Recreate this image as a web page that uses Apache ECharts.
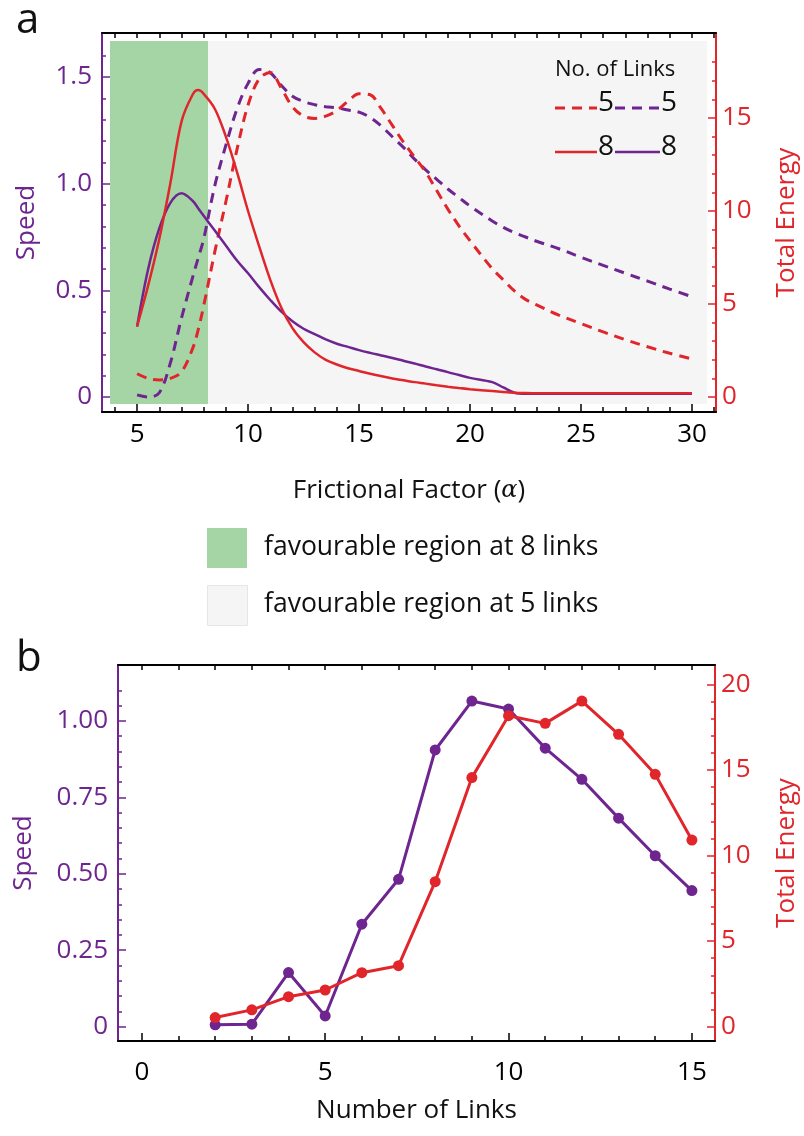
<!DOCTYPE html>
<html>
<head>
<meta charset="utf-8">
<title>Speed and total energy vs frictional factor / number of links</title>
<script src="https://cdn.jsdelivr.net/npm/echarts@6.0.0/dist/echarts.min.js"></script>
<style>
  html, body { margin: 0; padding: 0; background: #fff; }
  #main { width: 804px; height: 1136px; }
</style>
</head>
<body>
<div id="main"></div>
<script>
// ---- panel a : sweep over the frictional factor ----
var alpha = [5, 5.5, 6, 6.5, 7, 7.5, 7.75, 8, 8.5, 9, 9.5, 10, 10.5, 11, 11.5, 12, 12.5, 13, 13.5, 14, 14.5,
  15, 15.5, 16, 16.5, 17, 17.5, 18, 18.5, 19, 19.5, 20, 21, 21.5, 22, 22.5, 23, 24, 25, 26, 27, 28, 29, 30];
var speed8 = [0.33, 0.60, 0.79, 0.91, 0.955, 0.92, 0.885, 0.85, 0.78, 0.71, 0.64, 0.58, 0.515, 0.455, 0.40, 0.355, 0.32,
  0.295, 0.27, 0.25, 0.235, 0.22, 0.207, 0.195, 0.183, 0.17, 0.157, 0.143, 0.13, 0.117, 0.103, 0.09, 0.07, 0.045,
  0.02, 0.015, 0.015, 0.015, 0.015, 0.015, 0.015, 0.015, 0.015, 0.015];
var energy8 = [3.8, 6.0, 8.5, 11.5, 14.8, 16.25, 16.5, 16.3, 15.5, 14.0, 12.1, 10.0, 8.1, 6.3, 4.8, 3.7, 2.95,
  2.4, 2.0, 1.75, 1.55, 1.4, 1.25, 1.12, 1.0, 0.9, 0.8, 0.72, 0.63, 0.55, 0.48, 0.42, 0.32, 0.27,
  0.23, 0.21, 0.2, 0.2, 0.2, 0.2, 0.2, 0.2, 0.2, 0.2];
var speed5 = [0.01, 0.0, 0.02, 0.16, 0.37, 0.56, 0.65, 0.74, 0.99, 1.18, 1.35, 1.47, 1.535, 1.52, 1.46, 1.41, 1.385,
  1.37, 1.36, 1.355, 1.345, 1.335, 1.31, 1.27, 1.22, 1.17, 1.115, 1.065, 1.02, 0.975, 0.935, 0.895, 0.825, 0.795,
  0.77, 0.75, 0.73, 0.695, 0.655, 0.617, 0.58, 0.543, 0.506, 0.47];
var energy5 = [1.25, 1.0, 0.92, 1.0, 1.35, 2.6, 3.6, 4.9, 7.8, 10.5, 13.3, 15.7, 17.1, 17.45, 16.6, 15.6, 15.1,
  14.98, 15.1, 15.4, 15.9, 16.3, 16.25, 15.5, 14.6, 13.7, 12.9, 12.1, 11.1, 10.1, 9.2, 8.4, 6.9, 6.3,
  5.7, 5.25, 4.95, 4.4, 3.95, 3.5, 3.08, 2.7, 2.35, 2.05];

// favourable regions (alpha from..to, speed from..to)
var region8 = [3.78, 8.2];
var region5 = [8.2, 30.68];
var regionSpeed = [-0.033, 1.669];

// ---- panel b : number of links ----
var links = [2, 3, 4, 5, 6, 7, 8, 9, 10, 11, 12, 13, 14, 15];
var speedLinks = [0.006, 0.008, 0.177, 0.035, 0.335, 0.482, 0.905, 1.065, 1.039, 0.911, 0.809, 0.682, 0.559, 0.445];
var energyLinks = [0.53, 0.98, 1.75, 2.14, 3.15, 3.56, 8.47, 14.55, 18.17, 17.72, 19.02, 17.08, 14.74, 10.9];

// tick values
var alphaLabels = [5, 10, 15, 20, 25, 30];
var alphaMinor = [4, 5, 6, 7, 8, 9, 10, 11, 12, 13, 14, 15, 16, 17, 18, 19, 20, 21, 22, 23, 24, 25, 26, 27, 28, 29, 30, 31];
var speedLabelsA = [0, 0.5, 1, 1.5];
var speedMinorA = [0, 0.1, 0.2, 0.3, 0.4, 0.5, 0.6, 0.7, 0.8, 0.9, 1.0, 1.1, 1.2, 1.3, 1.4, 1.5, 1.6];
var energyLabelsA = [0, 5, 10, 15];
var energyMinorA = [0, 1, 2, 3, 4, 5, 6, 7, 8, 9, 10, 11, 12, 13, 14, 15, 16, 17, 18];
var linkLabels = [0, 5, 10, 15];
var linkMinor = [0, 1, 2, 3, 4, 5, 6, 7, 8, 9, 10, 11, 12, 13, 14, 15];
var speedLabelsB = [0, 0.25, 0.5, 0.75, 1];
var speedMinorB = [0, 0.05, 0.1, 0.15, 0.2, 0.25, 0.3, 0.35, 0.4, 0.45, 0.5, 0.55, 0.6, 0.65, 0.7, 0.75,
  0.8, 0.85, 0.9, 0.95, 1.0, 1.05, 1.1];
var energyLabelsB = [0, 5, 10, 15, 20];
var energyMinorB = [0, 1, 2, 3, 4, 5, 6, 7, 8, 9, 10, 11, 12, 13, 14, 15, 16, 17, 18, 19, 20];

var PURPLE = '#6e2590';
var RED = '#e0262b';
var GREEN = '#a5d4a5';
var GREY = '#f5f5f5';
var FONT = 'Open Sans';

function pairs(xs, ys) {
  return xs.map(function (x, i) { return [x, ys[i]]; });
}

// axis that only draws ticks (used for minor ticks and the top frame)
function tickAxis(grid, pos, min, max, values, len, color, line) {
  return {
    type: 'value', gridIndex: grid, position: pos, min: min, max: max, z: 10,
    axisLine: { show: !!line, onZero: false, lineStyle: { color: color, width: 2 } },
    axisLabel: { show: false },
    splitLine: { show: false },
    axisTick: { show: true, inside: true, length: len, customValues: values, lineStyle: { color: color, width: 1.5 } }
  };
}

function mainAxis(grid, pos, min, max, labels, color, fmt, margin, name, nameGap) {
  return {
    type: 'value', gridIndex: grid, position: pos, min: min, max: max, z: 10,
    axisLine: { show: true, onZero: false, lineStyle: { color: color, width: 2 } },
    axisTick: { show: true, inside: true, length: 8, customValues: labels, lineStyle: { color: color, width: 1.5 } },
    axisLabel: { customValues: labels, color: color, fontSize: 26, fontFamily: FONT, margin: margin, formatter: fmt },
    splitLine: { show: false },
    name: name, nameLocation: 'middle', nameGap: nameGap, nameRotate: (pos === 'left' || pos === 'right') ? 90 : 0,
    nameTextStyle: {
      color: color === '#000' ? '#111' : color, fontSize: 26, fontFamily: FONT,
      rich: { i: { fontStyle: 'italic', fontFamily: 'DejaVu Serif', fontSize: 24, color: '#111' } }
    }
  };
}

var fmt1 = function (v) { return v === 0 ? '0' : v.toFixed(1); };
var fmt2 = function (v) { return v === 0 ? '0' : v.toFixed(2); };
var fmt0 = function (v) { return String(v); };

var xA = [3.42, 31.08], ysA = [-0.07, 1.706], yeA = [-0.806, 19.57];
var xB = [-0.65, 15.63], ysB = [-0.047, 1.183], yeB = [-0.84, 21.13];

// small hand-made key for the line styles (No. of Links)
function keyRow(y, label, dashed) {
  var dash = dashed ? [10, 7] : null;
  return [
    { type: 'line', z: 100, shape: { x1: 555, y1: y, x2: 597, y2: y }, style: { stroke: RED, lineWidth: dashed ? 3 : 2.5, lineDash: dash } },
    { type: 'text', z: 100, left: 598, top: y - 19, style: { text: label, fontSize: 28, fontFamily: FONT, fill: '#111' } },
    { type: 'line', z: 100, shape: { x1: 615, y1: y, x2: 660, y2: y }, style: { stroke: PURPLE, lineWidth: dashed ? 3 : 2.5, lineDash: dash } },
    { type: 'text', z: 100, left: 661, top: y - 19, style: { text: label, fontSize: 28, fontFamily: FONT, fill: '#111' } }
  ];
}

var chart = echarts.init(document.getElementById('main'), null, { renderer: 'canvas' });

var option = {
  backgroundColor: '#fff',
  animation: false,
  textStyle: { fontFamily: FONT },
  grid: [
    { left: 102, top: 33, width: 614, height: 379, outerBoundsMode: 'none' },
    { left: 118, top: 665, width: 597, height: 376, outerBoundsMode: 'none' }
  ],
  xAxis: [
    mainAxis(0, 'bottom', xA[0], xA[1], alphaLabels, '#000', fmt0, 10, 'Frictional Factor ({i|α})', 66),
    tickAxis(0, 'bottom', xA[0], xA[1], alphaMinor, 5, '#000', false),
    tickAxis(0, 'top', xA[0], xA[1], alphaMinor, 5, '#000', true),
    mainAxis(1, 'bottom', xB[0], xB[1], linkLabels, '#000', fmt0, 19, 'Number of Links', 57),
    tickAxis(1, 'bottom', xB[0], xB[1], linkMinor, 5, '#000', false),
    tickAxis(1, 'top', xB[0], xB[1], linkMinor, 5, '#000', true)
  ],
  yAxis: [
    mainAxis(0, 'left', ysA[0], ysA[1], speedLabelsA, PURPLE, fmt1, 10, 'Speed', 62),
    tickAxis(0, 'left', ysA[0], ysA[1], speedMinorA, 4, PURPLE, false),
    mainAxis(0, 'right', yeA[0], yeA[1], energyLabelsA, RED, fmt0, 6, 'Total Energy', 58),
    tickAxis(0, 'right', yeA[0], yeA[1], energyMinorA, 4, RED, false),
    mainAxis(1, 'left', ysB[0], ysB[1], speedLabelsB, PURPLE, fmt2, 10, 'Speed', 81),
    tickAxis(1, 'left', ysB[0], ysB[1], speedMinorB, 4, PURPLE, false),
    mainAxis(1, 'right', yeB[0], yeB[1], energyLabelsB, RED, fmt0, 6, 'Total Energy', 59),
    tickAxis(1, 'right', yeB[0], yeB[1], energyMinorB, 4, RED, false)
  ],
  graphic: [
    { type: 'text', z: 100, left: 16, top: 0, style: { text: 'a', fontSize: 42, fontFamily: FONT, fill: '#111' } },
    { type: 'text', z: 100, left: 16, top: 638, style: { text: 'b', fontSize: 42, fontFamily: FONT, fill: '#111' } },
    { type: 'text', z: 100, left: 555, top: 59, style: { text: 'No. of Links', fontSize: 22, fontFamily: FONT, fill: '#111' } },
    { type: 'rect', z: 100, left: 207, top: 528, shape: { width: 40, height: 40 }, style: { fill: GREEN } },
    { type: 'rect', z: 100, left: 207, top: 585, shape: { width: 40, height: 40 }, style: { fill: GREY, stroke: '#e6e6e6', lineWidth: 1 } },
    { type: 'text', z: 100, left: 264, top: 534, style: { text: 'favourable region at 8 links', fontSize: 26.5, fontFamily: FONT, fill: '#111' } },
    { type: 'text', z: 100, left: 264, top: 591, style: { text: 'favourable region at 5 links', fontSize: 26.5, fontFamily: FONT, fill: '#111' } }
  ].concat(keyRow(108, '5', true), keyRow(152, '8', false)),
  series: [
    {
      name: 'regions', type: 'line', xAxisIndex: 0, yAxisIndex: 0, data: [], silent: true,
      markArea: {
        silent: true, label: { show: false },
        data: [
          [{ xAxis: region8[0], yAxis: regionSpeed[0], itemStyle: { color: GREEN } }, { xAxis: region8[1], yAxis: regionSpeed[1] }],
          [{ xAxis: region5[0], yAxis: regionSpeed[0], itemStyle: { color: GREY } }, { xAxis: region5[1], yAxis: regionSpeed[1] }]
        ]
      }
    },
    {
      name: 'speed 5', type: 'line', xAxisIndex: 0, yAxisIndex: 0, data: pairs(alpha, speed5),
      smooth: 0.35, symbol: 'none', itemStyle: { color: PURPLE },
      lineStyle: { color: PURPLE, width: 3, type: [10, 7] }
    },
    {
      name: 'energy 5', type: 'line', xAxisIndex: 0, yAxisIndex: 2, data: pairs(alpha, energy5),
      smooth: 0.35, symbol: 'none', itemStyle: { color: RED },
      lineStyle: { color: RED, width: 3, type: [10, 7] }
    },
    {
      name: 'speed 8', type: 'line', xAxisIndex: 0, yAxisIndex: 0, data: pairs(alpha, speed8),
      smooth: 0.35, symbol: 'none', itemStyle: { color: PURPLE },
      lineStyle: { color: PURPLE, width: 2.5 }
    },
    {
      name: 'energy 8', type: 'line', xAxisIndex: 0, yAxisIndex: 2, data: pairs(alpha, energy8),
      smooth: 0.35, symbol: 'none', itemStyle: { color: RED },
      lineStyle: { color: RED, width: 2.5 }
    },
    {
      name: 'speed links', type: 'line', xAxisIndex: 3, yAxisIndex: 4, data: pairs(links, speedLinks),
      symbol: 'circle', symbolSize: 11, itemStyle: { color: PURPLE },
      lineStyle: { color: PURPLE, width: 3 }
    },
    {
      name: 'energy links', type: 'line', xAxisIndex: 3, yAxisIndex: 6, data: pairs(links, energyLinks),
      symbol: 'circle', symbolSize: 11, itemStyle: { color: RED },
      lineStyle: { color: RED, width: 3 }
    }
  ]
};

chart.setOption(option);
window.addEventListener('resize', function () { chart.resize(); });
</script>
</body>
</html>
